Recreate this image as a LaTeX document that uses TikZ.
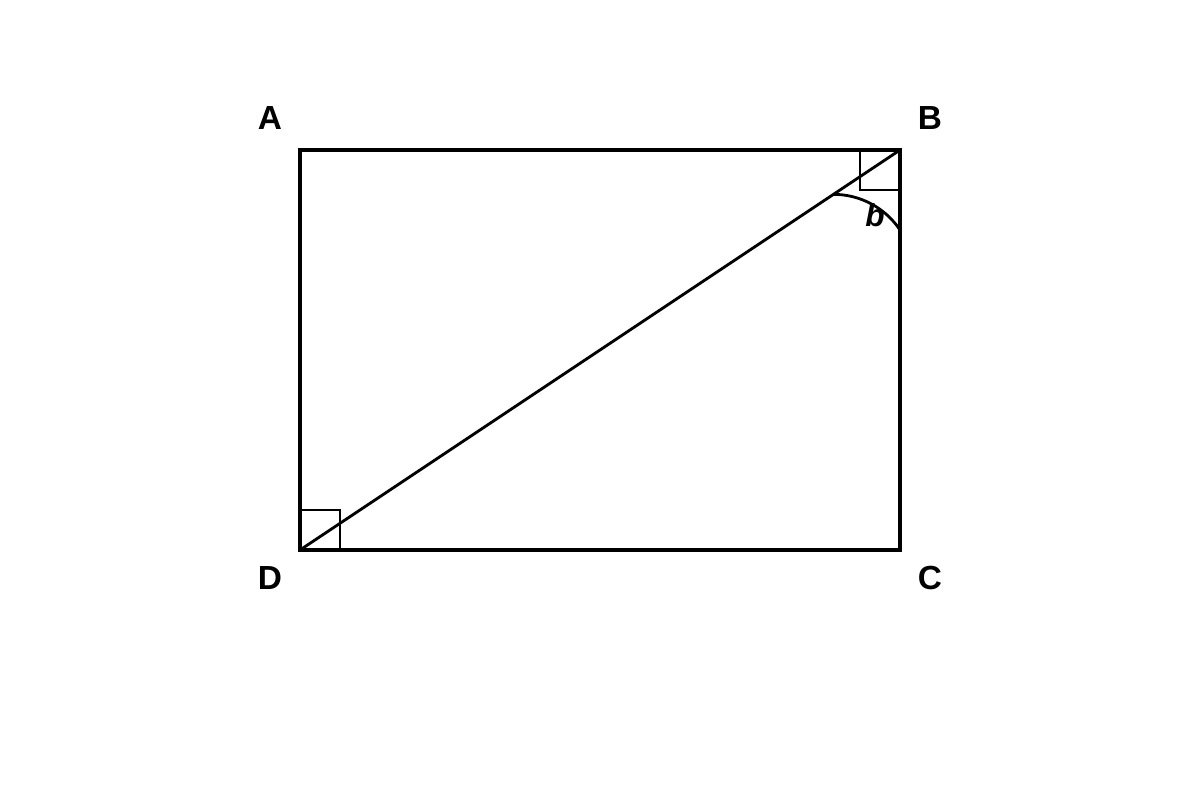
\documentclass[tikz,border=0pt]{standalone}
\usepackage{fontspec}
\setmainfont{Liberation Sans}
\begin{document}
\begin{tikzpicture}
    \tikzstyle{lbl}=[inner sep=0pt,font=\fontsize{19}{23}\selectfont\bfseries]
    \useasboundingbox (0,0) rectangle (24,16);
    \coordinate (a) at (6,13); \coordinate (b) at (18,13);
    \coordinate (c) at (18,5); \coordinate (d) at (6,5);
    \draw node[lbl](la)at(5.4,13.64){A}
          node[lbl](lb)at(18.6,13.64){B}
          node[lbl](lc)at(18.6,4.44){C}
          node[lbl](ld)at(5.4,4.44){D}
          node[lbl,font=\fontsize{18}{22}\selectfont\bfseries\itshape](angb)at(17.5,11.7){b};
    \draw[line width=1.1pt]([xshift=-0.8cm]b)|-([yshift=-0.8cm]b);
    \draw[line width=1.1pt]([yshift=0.8cm]d)-|([xshift=0.8cm]d);
    \draw[line width=1.6pt](d)--(b);
    \draw[line width=1.6pt]([shift={(213.69:1.6)}]b) arc(90:33.69:1.6);
    \draw[line width=2.2pt](a)--(b)--(c)--(d)--cycle;
\end{tikzpicture}
\end{document}
